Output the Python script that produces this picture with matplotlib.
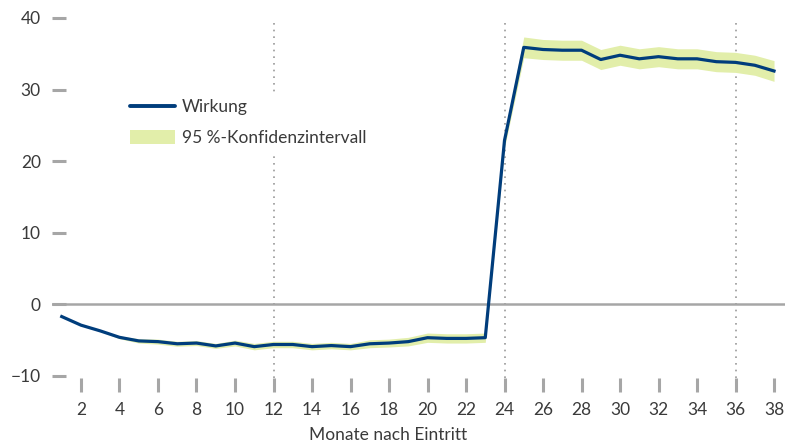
import matplotlib
matplotlib.use("Agg")
import matplotlib.pyplot as plt
from matplotlib.lines import Line2D
from matplotlib.patches import Patch

plt.rcParams['font.family'] = ['Lato', 'DejaVu Sans']

months = list(range(1, 39))
wirkung = [-1.7, -2.9, -3.7, -4.6, -5.1, -5.2, -5.5, -5.4, -5.8, -5.4,
           -5.9, -5.6, -5.6, -5.9, -5.75, -5.9, -5.5, -5.4, -5.2, -4.65,
           -4.75, -4.75, -4.65, 22.9, 35.9, 35.6, 35.5, 35.5, 34.2, 34.8,
           34.3, 34.6, 34.3, 34.3, 33.9, 33.8, 33.4, 32.6]
ci_halfwidth = [0.05, 0.05, 0.1, 0.2, 0.3, 0.35, 0.35, 0.35, 0.35, 0.4,
                0.45, 0.45, 0.45, 0.45, 0.45, 0.45, 0.55, 0.55, 0.6, 0.65,
                0.65, 0.65, 0.65, 1.0, 1.45, 1.4, 1.4, 1.4, 1.4, 1.4,
                1.4, 1.4, 1.4, 1.4, 1.4, 1.4, 1.4, 1.45]
ci_lower = [w - h for w, h in zip(wirkung, ci_halfwidth)]
ci_upper = [w + h for w, h in zip(wirkung, ci_halfwidth)]

xticks = list(range(2, 39, 2))
yticks = [-10, 0, 10, 20, 30, 40]
vlines = [12, 24, 36]

W, H = 785, 443
fig = plt.figure(figsize=(W / 100, H / 100), dpi=100)
left, right, top, bottom = 52, 785, 18, 378
ax = fig.add_axes([left / W, 1 - bottom / H, (right - left) / W, (bottom - top) / H])

line_color = '#003d7c'
band_color = '#e2eeaa'
grey = '#a6a6a6'
text_color = '#3a3a3a'

ax.set_xlim(0.494, 38.57)
ax.set_ylim(-10.28, 40)

for v in vlines:
    ax.axvline(v, color='#999999', lw=1.2, linestyle=(0, (1, 3)), zorder=1)
ax.axhline(0, color=grey, lw=1.8, zorder=2)

ax.fill_between(months, ci_lower, ci_upper, color=band_color, lw=0, zorder=3)
ax.plot(months, wirkung, color=line_color, lw=2.3, zorder=4, solid_joinstyle='round')

for s in ax.spines.values():
    s.set_visible(False)

ax.set_xticks(xticks)
ax.set_yticks(yticks)
ax.tick_params(axis='x', direction='out', length=10, width=2.2, color=grey,
               pad=7, labelsize=12.5, labelcolor=text_color)
ax.tick_params(axis='y', direction='in', length=10, width=2.2, color=grey,
               pad=8, labelsize=12.5, labelcolor=text_color)

fig.text(388 / W, 1 - 435 / H, 'Monate nach Eintritt', ha='center', va='center',
         fontsize=12.5, color=text_color)

handles = [Line2D([0], [0], color=line_color, lw=2.8, solid_capstyle='round'),
           Patch(facecolor=band_color, edgecolor='none')]
leg = ax.legend(handles, ['Wirkung', '95\u202f%-Konfidenzintervall'],
                loc='upper left', bbox_to_anchor=(124 / W, 1 - 93 / H),
                bbox_transform=fig.transFigure, borderaxespad=0,
                frameon=True, fancybox=False, framealpha=1,
                edgecolor='none', facecolor='white', fontsize=12.5,
                handlelength=2.6, handleheight=0.9, handletextpad=0.4,
                labelspacing=0.85, borderpad=0.35)
leg.set_zorder(5)
for t in leg.get_texts():
    t.set_color(text_color)

fig.savefig('out.png', dpi=100)
